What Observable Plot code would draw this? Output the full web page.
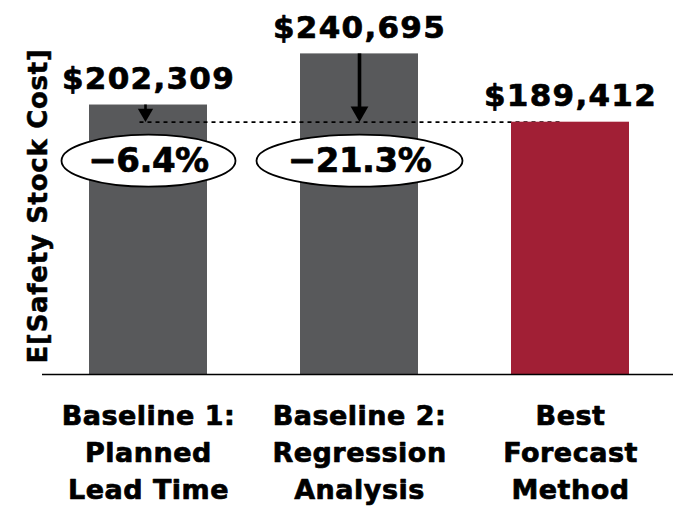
<!DOCTYPE html>
<html>
<head>
<meta charset="utf-8">
<script src="https://cdn.jsdelivr.net/npm/d3@7"></script>
<script src="https://cdn.jsdelivr.net/npm/@observablehq/plot@0.6"></script>
<style>
  html, body { margin: 0; padding: 0; background: #fff; }
  #chart { width: 673px; height: 507px; }
</style>
</head>
<body>
<div id="chart"></div>
<script>
// ---- data ----
const categories = [
  "Baseline 1:\nPlanned\nLead Time",
  "Baseline 2:\nRegression\nAnalysis",
  "Best\nForecast\nMethod"
];
const costs = [202309, 240695, 189412];
const costLabels = ["$202,309", "$240,695", "$189,412"];
const reductionLabels = ["−6.4%", "−21.3%"];
const yLabel = "E[Safety Stock Cost]";
const bestIndex = 2;

// ---- derived tables ----
const rows = categories.map((cat, i) => ({cat, cost: costs[i], label: costLabels[i]}));
const best = rows[bestIndex];
const baselines = rows
  .filter((d, i) => i !== bestIndex)
  .map((d, i) => ({...d, target: best.cost, pct: reductionLabels[i]}));
const refLine = [{from: rows[0].cat, to: best.cat, y: best.cost}];

// ---- styles ----
const GRAY = "#58595b";
const RED = "#a11f35";
const FONT = "DejaVu Sans";
const HEAD_R = [5.7, 6.6];
const HEAD_DY = [-9, -10.5];
const SHAFT_W = [2.6, 3.6];
const ARROW_DX = [-3, 0];
const ELLIPSE_RX = [87, 103];
const ELLIPSE_RY = 26;
const HEAVY = {fontWeight: "bold", fontFamily: FONT, fill: "black", stroke: "black", strokeWidth: 0.7};

function ellipse(rx, ry) {
  const k = 0.5522847;
  return {
    draw(ctx) {
      ctx.moveTo(rx, 0);
      ctx.bezierCurveTo(rx, ry * k, rx * k, ry, 0, ry);
      ctx.bezierCurveTo(-rx * k, ry, -rx, ry * k, -rx, 0);
      ctx.bezierCurveTo(-rx, -ry * k, -rx * k, -ry, 0, -ry);
      ctx.bezierCurveTo(rx * k, -ry, rx, -ry * k, rx, 0);
      ctx.closePath();
    }
  };
}

const marks = [
  Plot.barY(baselines, {x: "cat", y: "cost", fill: GRAY}),
  Plot.link(refLine, {
    x1: "from", x2: "to", y1: "y", y2: "y",
    stroke: "black", strokeWidth: 1.7, strokeDasharray: "4,4", dx: -9
  }),
  Plot.barY([best], {x: "cat", y: "cost", fill: RED})
];

baselines.forEach((d, i) => {
  marks.push(
    Plot.ruleX([d], {x: "cat", y1: "cost", y2: "target", stroke: "black",
      strokeWidth: SHAFT_W[i], dx: ARROW_DX[i], insetBottom: 7}),
    Plot.dot([d], {x: "cat", y: "target", symbol: "triangle", r: HEAD_R[i],
      rotate: 180, fill: "black", stroke: "none", dx: ARROW_DX[i], dy: HEAD_DY[i]}),
    Plot.dot([d], {x: "cat", y: "target", symbol: ellipse(ELLIPSE_RX[i], ELLIPSE_RY),
      fill: "white", stroke: "black", strokeWidth: 1.8, dy: 38.5})
  );
});

marks.push(
  Plot.text(baselines, {x: "cat", y: "target", text: "pct", dy: 38.5,
    lineAnchor: "middle", fontSize: 34, ...HEAVY, ariaDescription: "pct-labels"}),
  Plot.text(rows, {x: "cat", y: "cost", text: "label", lineAnchor: "bottom", dy: -16,
    fontSize: 31, ...HEAVY, ariaDescription: "value-labels"}),
  Plot.text(rows, {x: "cat", y: 0, text: "cat", lineAnchor: "top", dy: 24,
    fontSize: 27, lineHeight: 1.37, ...HEAVY, ariaDescription: "cat-labels"}),
  Plot.text([yLabel], {text: d => d, frameAnchor: "left", textAnchor: "middle", rotate: -90,
    dx: -4, dy: -2, lineAnchor: "middle", fontSize: 26, ...HEAVY, strokeWidth: 0.5,
    ariaDescription: "y-label"}),
  Plot.ruleY([0], {stroke: "black", strokeWidth: 1.6})
);

const chart = Plot.plot({
  width: 673,
  height: 507,
  marginLeft: 42,
  marginRight: 0,
  marginTop: 41,
  marginBottom: 133,
  style: {fontFamily: FONT, background: "white"},
  x: {domain: categories, axis: null, paddingInner: 0.441, paddingOuter: 0.214, align: 0.52},
  y: {domain: [0, 250000], axis: null},
  marks
});

const svg = d3.select(chart);
svg.selectAll('g[aria-description="value-labels"] text').attr("letter-spacing", 1.3);
svg.selectAll('g[aria-description="cat-labels"] text').attr("letter-spacing", 0.5);
svg.selectAll('g[aria-description="y-label"] text').attr("letter-spacing", 0.7);
svg.selectAll('g[aria-description="pct-labels"] text').attr("letter-spacing", -0.5);

document.getElementById("chart").appendChild(chart);
</script>
</body>
</html>
